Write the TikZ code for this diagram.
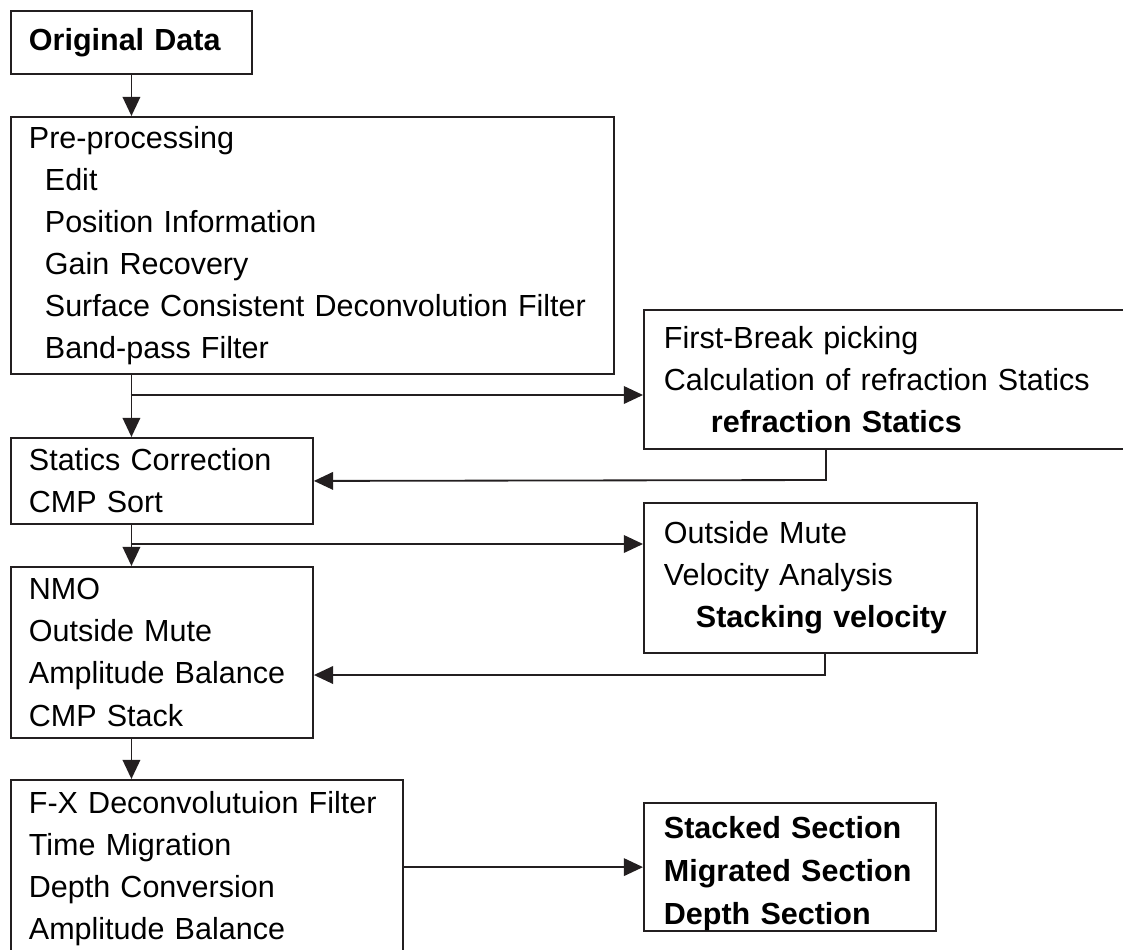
\documentclass[tikz,border=0pt]{standalone}
\usepackage{fontspec}
\setmainfont{Liberation Sans}
\usetikzlibrary{arrows.meta}
\definecolor{linegray}{HTML}{231F20}

\begin{document}
\begin{tikzpicture}[x=0.025cm, y=-0.025cm,
		procbox/.style={draw=linegray, line width=1.3pt, anchor=north west, align=left, inner ysep=0pt, font=\fontsize{21.7}{29.9}\selectfont},
		leftbox/.style={procbox, inner xsep=0.45cm},
		rightbox/.style={procbox, inner xsep=0.5cm},
		flow/.style={draw=linegray, line width=1.3pt, -{Triangle[length=0.48cm, width=0.44cm]}}]
	\clip (0,0) rectangle (1123,949);

	\node[leftbox, text width=5.125cm, minimum height=1.575cm] (orig) at (10,10) {\textbf{Original Data}};
	\node[leftbox, text width=14.175cm, minimum height=6.425cm] (pre) at (10,116) {Pre-processing\\
		\hspace*{0.4cm}Edit\\
		\hspace*{0.4cm}Position Information\\
		\hspace*{0.4cm}Gain Recovery\\
		\hspace*{0.4cm}Surface Consistent Deconvolution Filter\\
		\hspace*{0.4cm}Band-pass Filter};
	\node[rightbox, text width=11.5cm, minimum height=3.475cm] (first) at (643,309) {First-Break picking\\
		Calculation of refraction Statics\\
		\hspace*{1.175cm}\textbf{refraction Statics}};
	\node[leftbox, text width=6.65cm, minimum height=2.15cm] (stat) at (10,437) {Statics Correction\\CMP Sort};
	\node[rightbox, text width=7.325cm, minimum height=3.75cm] (vel) at (643,502) {Outside Mute\\
		Velocity Analysis\\
		\hspace*{0.8cm}\textbf{Stacking velocity}};
	\node[leftbox, text width=6.65cm, minimum height=4.275cm] (nmo) at (10,566) {NMO\\Outside Mute\\Amplitude Balance\\CMP Stack};
	\node[leftbox, text width=8.9cm, minimum height=4.45cm] (fx) at (10,779) {F-X Deconvolutuion Filter\\
		Time Migration\\
		Depth Conversion\\
		Amplitude Balance};
	\node[rightbox, text width=6.3cm, minimum height=3.2cm, font=\fontsize{21.7}{30.6}\selectfont] (out) at (643,802) {\rule{0pt}{0.9cm}\textbf{Stacked Section}\\
		\textbf{Migrated Section}\\
		\textbf{Depth Section}};

	\coordinate (fork1) at (130.5,395);
	\coordinate (ret1) at (826,480);
	\coordinate (fork2) at (130.5,544);
	\coordinate (ret2) at (825,675);

	\draw[flow] (orig.south) -- (orig.south |- pre.north);
	\draw[flow] (orig.south |- pre.south) -- (orig.south |- stat.north);
	\draw[flow] (fork1) -- (fork1 -| first.west);
	\draw[flow] (first.south -| ret1) -- (ret1) -- (stat.east);
	\draw[flow] (orig.south |- stat.south) -- (orig.south |- nmo.north);
	\draw[flow] (fork2) -- (fork2 -| vel.west);
	\draw[flow] (vel.south -| ret2) -- (ret2) -- (ret2 -| nmo.east);
	\draw[flow] (orig.south |- nmo.south) -- (orig.south |- fx.north);
	\draw[flow] (fx.east |- out.west) -- (out.west);
\end{tikzpicture}
\end{document}
